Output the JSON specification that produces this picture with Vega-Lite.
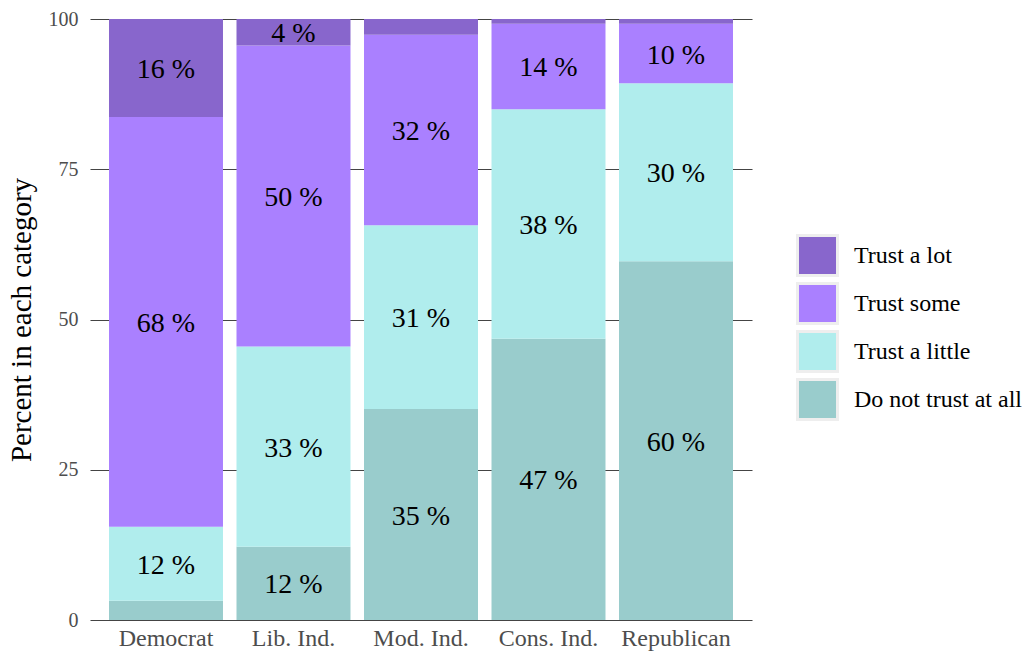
{
  "$schema": "https://vega.github.io/schema/vega-lite/v6.json",
  "width": 662,
  "height": 601,
  "autosize": "none",
  "padding": {"left": 90, "top": 19, "right": 277, "bottom": 36},
  "background": "white",
  "config": {
    "font": "Liberation Serif",
    "view": {"stroke": null}
  },
  "data": {
    "values": [
      {"party": "Democrat", "trust": "Do not trust at all", "rank": 1, "pct": 3.2},
      {"party": "Democrat", "trust": "Trust a little", "rank": 2, "pct": 12.3},
      {"party": "Democrat", "trust": "Trust some", "rank": 3, "pct": 68.2},
      {"party": "Democrat", "trust": "Trust a lot", "rank": 4, "pct": 16.3},
      {"party": "Lib. Ind.", "trust": "Do not trust at all", "rank": 1, "pct": 12.2},
      {"party": "Lib. Ind.", "trust": "Trust a little", "rank": 2, "pct": 33.3},
      {"party": "Lib. Ind.", "trust": "Trust some", "rank": 3, "pct": 50.1},
      {"party": "Lib. Ind.", "trust": "Trust a lot", "rank": 4, "pct": 4.4},
      {"party": "Mod. Ind.", "trust": "Do not trust at all", "rank": 1, "pct": 35.1},
      {"party": "Mod. Ind.", "trust": "Trust a little", "rank": 2, "pct": 30.6},
      {"party": "Mod. Ind.", "trust": "Trust some", "rank": 3, "pct": 31.7},
      {"party": "Mod. Ind.", "trust": "Trust a lot", "rank": 4, "pct": 2.6},
      {"party": "Cons. Ind.", "trust": "Do not trust at all", "rank": 1, "pct": 46.8},
      {"party": "Cons. Ind.", "trust": "Trust a little", "rank": 2, "pct": 38.2},
      {"party": "Cons. Ind.", "trust": "Trust some", "rank": 3, "pct": 14.2},
      {"party": "Cons. Ind.", "trust": "Trust a lot", "rank": 4, "pct": 0.8},
      {"party": "Republican", "trust": "Do not trust at all", "rank": 1, "pct": 59.7},
      {"party": "Republican", "trust": "Trust a little", "rank": 2, "pct": 29.6},
      {"party": "Republican", "trust": "Trust some", "rank": 3, "pct": 9.9},
      {"party": "Republican", "trust": "Trust a lot", "rank": 4, "pct": 0.8}
    ]
  },
  "encoding": {
    "x": {
      "field": "party",
      "type": "nominal",
      "sort": ["Democrat", "Lib. Ind.", "Mod. Ind.", "Cons. Ind.", "Republican"],
      "scale": {"paddingInner": 0.106, "paddingOuter": 0.149},
      "axis": {
        "title": null,
        "labelAngle": 0,
        "labelFont": "Liberation Serif",
        "labelFontSize": 24,
        "labelColor": "#4d4d4d",
        "labelPadding": 6,
        "ticks": false,
        "domain": false,
        "grid": true,
        "gridColor": "white",
        "gridWidth": 1,
        "zindex": 0
      }
    }
  },
  "layer": [
    {
      "mark": {"type": "bar"},
      "encoding": {
        "y": {
          "field": "pct",
          "type": "quantitative",
          "stack": "zero",
          "scale": {"domain": [0, 100], "nice": false, "zero": true},
          "axis": {
            "title": "Percent in each category",
            "titleFont": "Liberation Serif",
            "titleFontSize": 29,
            "titleFontWeight": "normal",
            "titleColor": "black",
            "titlePadding": 12,
            "values": [0, 25, 50, 75, 100],
            "labelFont": "Liberation Serif",
            "labelFontSize": 20,
            "labelColor": "#4d4d4d",
            "labelPadding": 12,
            "ticks": false,
            "domain": false,
            "grid": true,
            "gridColor": "#444444",
            "gridWidth": 1.2,
            "zindex": 0
          }
        },
        "color": {
          "field": "trust",
          "type": "nominal",
          "scale": {
            "domain": ["Trust a lot", "Trust some", "Trust a little", "Do not trust at all"],
            "range": ["#8866cc", "#aa80ff", "#b0eded", "#99cccc"]
          },
          "legend": {
            "title": null,
            "orient": "none",
            "legendX": 706,
            "legendY": 215,
            "symbolType": "square",
            "symbolSize": 1600,
            "symbolStrokeColor": "#eeeeee",
            "symbolStrokeWidth": 3,
            "symbolOpacity": 1,
            "rowPadding": -14,
            "labelOffset": 15,
            "labelFont": "Liberation Serif",
            "labelFontSize": 24,
            "labelColor": "black",
            "labelLimit": 300
          }
        },
        "order": {"field": "rank", "type": "quantitative", "sort": "ascending"}
      }
    },
    {
      "transform": [
        {"stack": "pct", "groupby": ["party"], "sort": [{"field": "rank", "order": "ascending"}], "as": ["y0", "y1"]},
        {"calculate": "(datum.y0 + datum.y1) / 2", "as": "mid"},
        {"calculate": "format(datum.pct, '.0f') + ' %'", "as": "label"},
        {"filter": "datum.pct >= 4"}
      ],
      "mark": {"type": "text", "font": "Liberation Serif", "fontSize": 28, "color": "black", "baseline": "middle", "dy": 2},
      "encoding": {
        "y": {"field": "mid", "type": "quantitative", "scale": {"domain": [0, 100]}},
        "text": {"field": "label", "type": "nominal"}
      }
    }
  ]
}
